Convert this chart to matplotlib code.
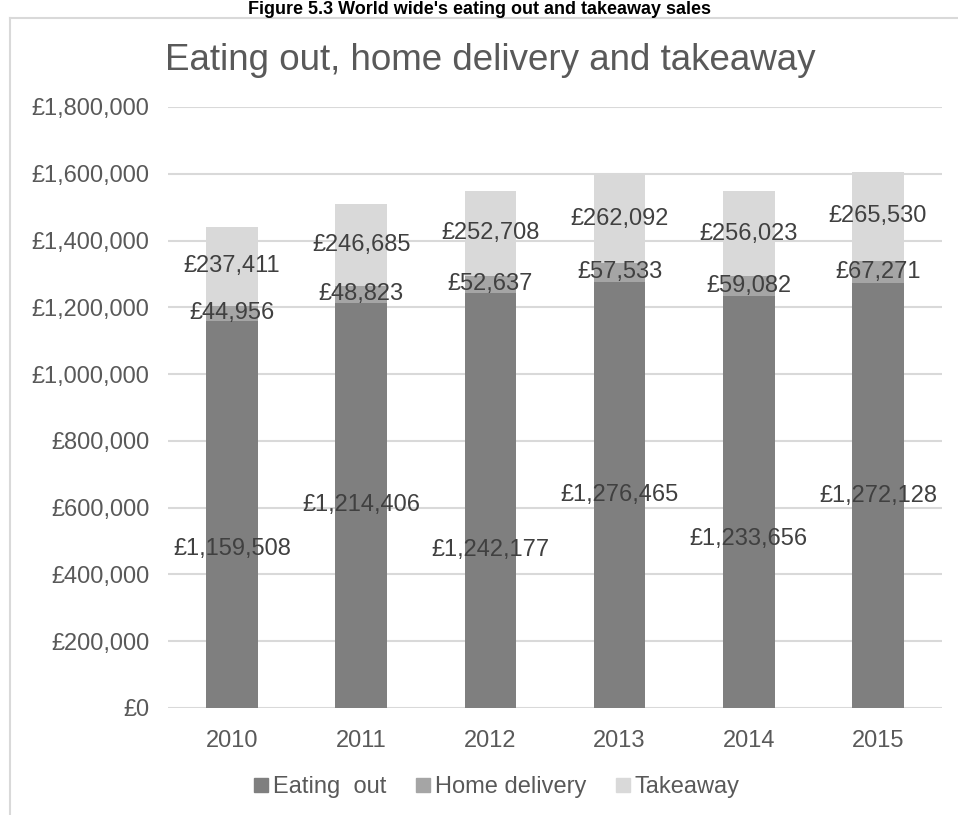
import numpy as np
import matplotlib
matplotlib.use("Agg")
import matplotlib.pyplot as plt
from matplotlib.lines import Line2D

plt.rcParams['font.family'] = ['Liberation Sans', 'DejaVu Sans']

years = ["2010", "2011", "2012", "2013", "2014", "2015"]
eating_out = [1159508, 1214406, 1242177, 1276465, 1233656, 1272128]
home_delivery = [44956, 48823, 52637, 57533, 59082, 67271]
takeaway = [237411, 246685, 252708, 262092, 256023, 265530]

series_names = ["Eating  out", "Home delivery", "Takeaway"]
colors = ["#7f7f7f", "#a5a5a5", "#d9d9d9"]

# where the eating-out labels sit, as a fraction of the bar height
eat_label_pos = [0.41, 0.5, 0.38, 0.5, 0.41, 0.5]

fig = plt.figure(figsize=(9.58, 8.15), dpi=100)
ax = fig.add_axes([167.5 / 958, 1 - 708 / 815, 775 / 958, 601 / 815])

x = np.arange(len(years))
w = 0.4
eo = np.array(eating_out)
hd = np.array(home_delivery)
tk = np.array(takeaway)

ax.bar(x, eo, w, color=colors[0], zorder=2)
ax.bar(x, hd, w, bottom=eo, color=colors[1], zorder=2)
ax.bar(x, tk, w, bottom=eo + hd, color=colors[2], zorder=2)

lab_kw = dict(ha='center', va='center', fontsize=17, color='#404040', zorder=3)
for i in range(len(years)):
    ax.text(x[i], eo[i] * eat_label_pos[i], f"£{eo[i]:,}", **lab_kw)
    ax.text(x[i], eo[i] + hd[i] / 2, f"£{hd[i]:,}", **lab_kw)
    ax.text(x[i], eo[i] + hd[i] + tk[i] / 2, f"£{tk[i]:,}", **lab_kw)

ax.set_xlim(-0.5, 5.5)
ax.set_ylim(0, 1800000)
ax.set_yticks(np.arange(0, 1800001, 200000))
ax.yaxis.set_major_formatter(matplotlib.ticker.FuncFormatter(lambda v, p: f"£{int(v):,}"))
ax.set_xticks(x)
ax.set_xticklabels(years)
ax.tick_params(axis='both', length=0, labelsize=17, labelcolor='#595959')
ax.tick_params(axis='y', pad=13)
ax.tick_params(axis='x', pad=16)
ax.grid(axis='y', color='#d9d9d9', linewidth=1.5, zorder=0)
for s in ax.spines.values():
    s.set_visible(False)

# outer chart frame
fig.add_artist(Line2D([10 / 958, 10 / 958], [0, 1 - 18 / 815], color='#d9d9d9', lw=1.5))
fig.add_artist(Line2D([10 / 958, 1], [1 - 18 / 815, 1 - 18 / 815], color='#d9d9d9', lw=1.5))

fig.text(480 / 958, 1 - 14 / 815, "Figure 5.3 World wide's eating out and takeaway sales",
         ha='center', va='baseline', fontsize=13, fontweight='bold', color='black')
fig.text(490 / 958, 1 - 60 / 815, "Eating out, home delivery and takeaway",
         ha='center', va='center', fontsize=26.5, color='#595959')

handles = [Line2D([], [], marker='s', linestyle='none', markersize=10,
                  markerfacecolor=c, markeredgecolor=c) for c in colors]
fig.legend(handles, series_names, loc='center', bbox_to_anchor=(496 / 958, 1 - 787 / 815),
           ncol=3, frameon=False, fontsize=17, labelcolor='#595959',
           handlelength=0.7, handletextpad=0.15, columnspacing=1.2)

fig.savefig("out.png", dpi=100)
